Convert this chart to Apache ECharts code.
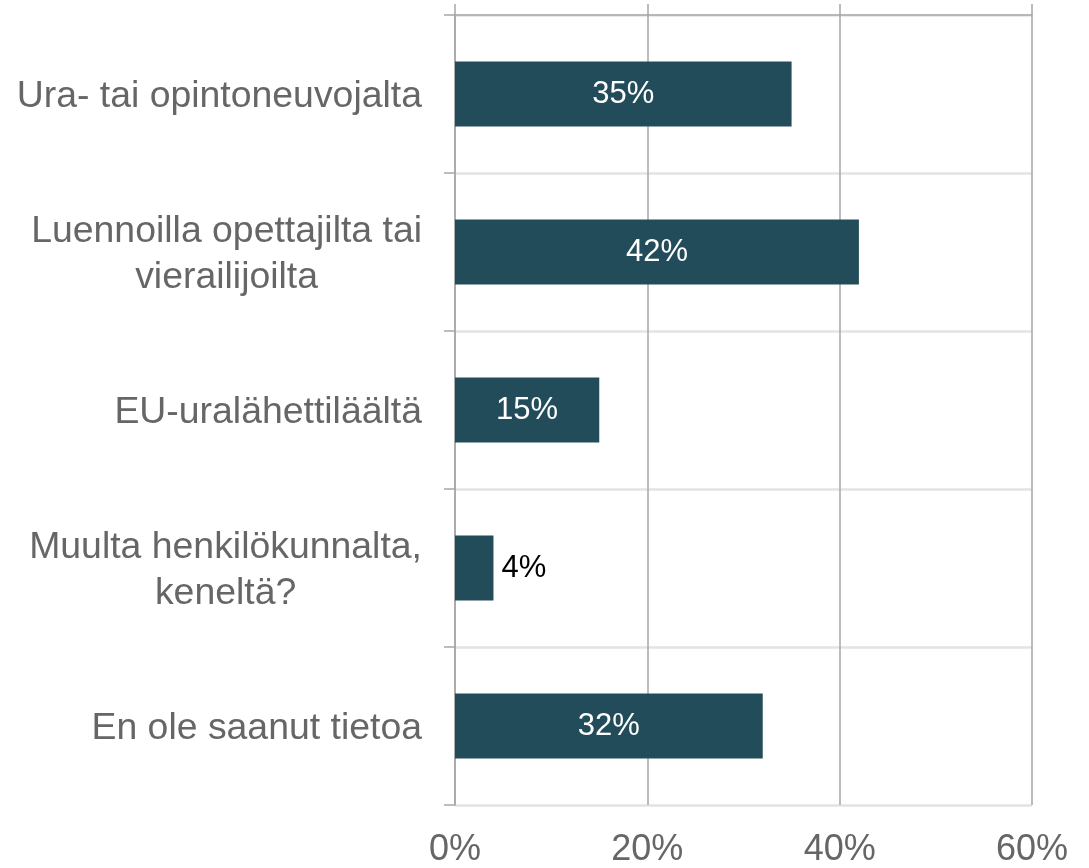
<!DOCTYPE html>
<html>
<head>
<meta charset="utf-8">
<style>
  html, body { margin: 0; padding: 0; background: #fff; }
  #chart { width: 1089px; height: 868px; }
</style>
<script src="https://cdn.jsdelivr.net/npm/echarts@6/dist/echarts.min.js"></script>
</head>
<body>
<div id="chart"></div>
<script>
const categories = [
  'Ura- tai opintoneuvojalta',
  'Luennoilla opettajilta tai\nvierailijoilta',
  'EU-uralähettiläältä',
  'Muulta henkilökunnalta,\nkeneltä?',
  'En ole saanut tietoa'
];
const values = [35, 42, 15, 4, 32];
const xTicks = [0, 20, 40, 60];

const chart = echarts.init(document.getElementById('chart'));
const FONT = 'Liberation Sans, Arial, sans-serif';
const GRID_DARK = '#a6a6a6';
const GRID_LIGHT = '#e3e3e3';

chart.setOption({
  animation: false,
  backgroundColor: '#ffffff',
  grid: { left: 455, right: 57, top: 15, bottom: 62, containLabel: false },
  xAxis: [
    {
      type: 'value',
      position: 'bottom',
      min: xTicks[0],
      max: xTicks[xTicks.length - 1],
      interval: 20,
      axisLine: { show: false },
      axisTick: { show: false },
      axisLabel: {
        formatter: v => v + '%',
        fontFamily: FONT,
        fontSize: 36,
        color: '#666666',
        margin: 27
      },
      splitLine: { show: true, lineStyle: { color: GRID_DARK, width: 1.5 } }
    },
    {
      type: 'value',
      position: 'top',
      min: xTicks[0],
      max: xTicks[xTicks.length - 1],
      interval: 20,
      axisLine: { show: true, lineStyle: { color: GRID_DARK, width: 1.5 } },
      axisTick: { show: true, inside: false, length: 11, lineStyle: { color: GRID_DARK, width: 1.5 } },
      axisLabel: { show: false },
      splitLine: { show: false }
    }
  ],
  yAxis: {
    type: 'category',
    data: categories,
    inverse: true,
    axisLine: { show: true, lineStyle: { color: GRID_DARK, width: 1.5 } },
    axisTick: { show: true, length: 11, lineStyle: { color: GRID_DARK, width: 1.5 } },
    splitLine: { show: true, lineStyle: { color: GRID_LIGHT, width: 2.5 } },
    axisLabel: {
      margin: 33,
      formatter: v => v.split('\n').map(l => '{c|' + l + '}').join('\n'),
      rich: {
        c: {
          fontFamily: FONT,
          fontSize: 37.4,
          color: '#666666',
          align: 'center',
          lineHeight: 46,
          padding: [6, 0, 0, 0]
        }
      }
    }
  },
  series: [{
    type: 'bar',
    xAxisIndex: 0,
    barWidth: 65,
    itemStyle: { color: '#234c5a' },
    label: {
      show: true,
      position: 'inside',
      formatter: p => p.value + '%',
      fontFamily: FONT,
      fontSize: 31,
      color: '#ffffff'
    },
    data: values.map(v => v < 10
      ? { value: v, label: { position: 'right', color: '#000000', distance: 8 } }
      : v)
  }]
});
</script>
</body>
</html>
